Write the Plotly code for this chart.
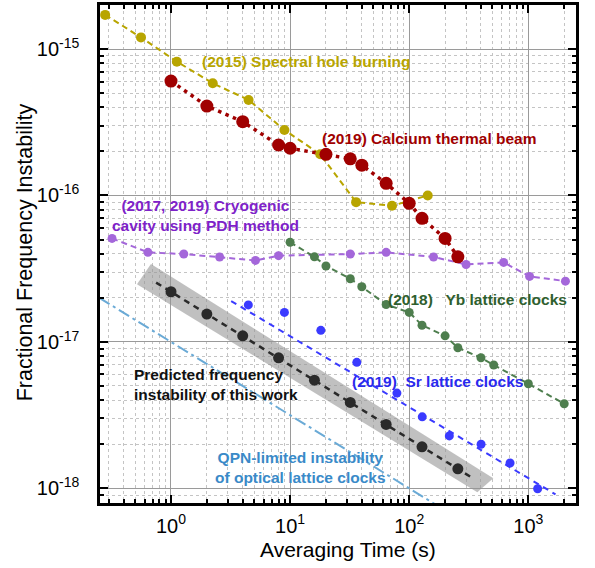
import plotly.graph_objects as go

# ---------------- data ----------------
shb_tau = [0.28, 0.56, 1.12, 2.24, 4.48, 8.96, 17.9, 35.8, 71.7, 143]
shb_sigma = [1.71e-15, 1.20e-15, 8.2e-16, 5.84e-16, 4.49e-16, 2.80e-16, 1.91e-16, 9.0e-17, 8.5e-17, 1.0e-16]

ca_tau = [1, 2, 4, 8, 10, 20, 32, 40, 64, 100, 128, 200, 256]
ca_sigma = [6.04e-16, 4.08e-16, 3.19e-16, 2.21e-16, 2.10e-16, 1.91e-16, 1.78e-16, 1.61e-16,
            1.21e-16, 8.83e-17, 6.98e-17, 5.09e-17, 3.81e-17]

cryo_tau = [0.32, 0.64, 1.28, 2.56, 5.12, 8, 32, 64, 160, 300, 620, 1024, 2048]
cryo_sigma = [5.09e-17, 4.09e-17, 3.98e-17, 3.80e-17, 3.6e-17, 3.88e-17, 3.98e-17, 4.09e-17,
              3.80e-17, 3.38e-17, 3.49e-17, 2.80e-17, 2.60e-17]

yb_tau = [10, 16, 20, 32, 40, 64, 100, 128, 200, 256, 400, 512, 1000, 2000]
yb_sigma = [4.79e-17, 3.81e-17, 3.30e-17, 2.70e-17, 2.38e-17, 1.80e-17, 1.59e-17, 1.30e-17,
            1.10e-17, 9.12e-18, 7.79e-18, 6.95e-18, 5.18e-18, 3.78e-18]

sr_tau = [4.46, 8.96, 18.1, 36.3, 78.8, 128.6, 217, 401, 702, 1197]
sr_sigma = [1.79e-17, 1.59e-17, 1.2e-17, 7.25e-18, 4.47e-18, 3.08e-18, 2.28e-18, 2.0e-18,
            1.49e-18, 9.94e-19]
sr_fit_tau = [3.2, 1690]
sr_fit_sigma = [1.9e-17, 9.1e-19]

qpn_tau = [0.25, 200]
qpn_sigma = [2.0e-17, 7.07e-19]

pred_tau = [1, 2, 4, 8, 16, 32, 64, 128, 256]
pred_sigma = [2.2e-17, 1.55e-17, 1.1e-17, 7.78e-18, 5.48e-18, 3.86e-18, 2.73e-18, 1.92e-18, 1.36e-18]
pred_line_tau = [0.75, 350]
pred_line_sigma = [2.54e-17, 1.16e-18]

band_tau = [0.679, 508, 373, 0.518, 0.679]
band_sigma = [3.40e-17, 1.17e-18, 9.4e-19, 2.48e-17, 3.40e-17]

x_major = [1, 10, 100, 1000]
x_major_text = ["10<sup>0</sup>", "10<sup>1</sup>", "10<sup>2</sup>", "10<sup>3</sup>"]
y_major = [1e-18, 1e-17, 1e-16, 1e-15]
y_major_text = ["10<sup>-18</sup>", "10<sup>-17</sup>", "10<sup>-16</sup>", "10<sup>-15</sup>"]
x_minor = [m * d for d in (0.1, 1, 10, 100, 1000) for m in range(2, 10)]
y_minor = [m * d for d in (1e-19, 1e-18, 1e-17, 1e-16, 1e-15) for m in range(2, 10)]

# ---------------- colours ----------------
OLIVE = "#B8A500"
RED = "#A00000"
PURPLE_M = "#A467DA"
PURPLE_T = "#7E22C8"
GREEN_M = "#4E7E4E"
GREEN_T = "#2F5F2F"
BLUE = "#3A3AFF"
BLUE_T = "#2A2AEE"
QPN = "#6AAAD6"
QPN_T = "#3A8AC8"

fig = go.Figure()

# gray band
fig.add_trace(go.Scatter(x=band_tau, y=band_sigma, mode="lines", fill="toself",
                         fillcolor="rgba(150,150,150,0.6)", line=dict(width=0),
                         hoverinfo="skip", showlegend=False))

# QPN line
fig.add_trace(go.Scatter(x=qpn_tau, y=qpn_sigma, mode="lines",
                         line=dict(color=QPN, width=2, dash="12px,4px,3px,4px"), showlegend=False))

# Sr fit line
fig.add_trace(go.Scatter(x=sr_fit_tau, y=sr_fit_sigma, mode="lines",
                         line=dict(color=BLUE, width=2, dash="6px,5px"), showlegend=False))

# Spectral hole burning
fig.add_trace(go.Scatter(x=shb_tau, y=shb_sigma, mode="lines+markers",
                         line=dict(color=OLIVE, width=2, dash="6px,4px"),
                         marker=dict(color=OLIVE, size=10), showlegend=False))

# Cryogenic cavity
fig.add_trace(go.Scatter(x=cryo_tau, y=cryo_sigma, mode="lines+markers",
                         line=dict(color=PURPLE_M, width=2, dash="6px,4px"),
                         marker=dict(color=PURPLE_M, size=9), showlegend=False))

# Yb lattice clocks
fig.add_trace(go.Scatter(x=yb_tau, y=yb_sigma, mode="lines+markers",
                         line=dict(color=GREEN_M, width=2, dash="6px,4px"),
                         marker=dict(color=GREEN_M, size=9), showlegend=False))

# Calcium thermal beam
fig.add_trace(go.Scatter(x=ca_tau, y=ca_sigma, mode="lines+markers",
                         line=dict(color=RED, width=3.5, dash="3.5px,4.5px"),
                         marker=dict(color=RED, size=13), showlegend=False))

# Sr points
fig.add_trace(go.Scatter(x=sr_tau, y=sr_sigma, mode="markers",
                         marker=dict(color=BLUE, size=9), showlegend=False))

# predicted
fig.add_trace(go.Scatter(x=pred_line_tau, y=pred_line_sigma, mode="lines",
                         line=dict(color="#2A2A2A", width=2.5, dash="6px,5px"), showlegend=False))
fig.add_trace(go.Scatter(x=pred_tau, y=pred_sigma, mode="markers",
                         marker=dict(color="#2A2A2A", size=11), showlegend=False))

FONT = "Liberation Sans, Arial, sans-serif"


def label(text, lx, ly, color, xanchor="center", align="center"):
    fig.add_annotation(x=lx, y=ly, xref="x", yref="y", text=text, showarrow=False,
                       xanchor=xanchor, align=align,
                       font=dict(family=FONT, size=15.5, color=color))


label("<b>(2015) Spectral hole burning</b>", 1.130, -15.087, OLIVE)
label("<b>(2019) Calcium thermal beam</b>", 2.167, -15.61, RED)
label("<b>(2017, 2019) Cryogenic<br>cavity using PDH method</b>", 0.29, -16.134, PURPLE_T)
label("<b>(2018)   Yb lattice clocks</b>", 2.576, -16.708, GREEN_T)
label("<b>(2019)  Sr lattice clocks</b>", 2.238, -17.268, BLUE_T)
label("<b>Predicted frequency<br>instability of this work</b>", -0.33, -17.292, "#111111",
      xanchor="left", align="left")
label("<b>QPN-limited instability<br>of optical lattice clocks</b>", 1.09, -17.855, QPN_T)

# axis titles placed as paper annotations
fig.add_annotation(x=0.522, y=-0.094, xref="paper", yref="paper", text="Averaging Time (s)",
                   showarrow=False, xanchor="center", yanchor="middle",
                   font=dict(family=FONT, size=21, color="black"))
fig.add_annotation(x=-0.158, y=0.503, xref="paper", yref="paper",
                   text="Fractional Frequency Instability", textangle=-90,
                   showarrow=False, xanchor="center", yanchor="middle",
                   font=dict(family=FONT, size=21.5, color="black"))

axis_common = dict(
    type="log", showline=True, linecolor="black", linewidth=2.5, mirror="allticks",
    ticks="inside", ticklen=8, tickwidth=2, tickcolor="black",
    showgrid=True, gridcolor="#9A9A9A", gridwidth=1,
    tickfont=dict(family=FONT, size=20, color="black"),
    zeroline=False,
)

fig.update_xaxes(
    **axis_common, range=[-0.596, 3.400], tickmode="array", tickvals=x_major, ticktext=x_major_text,
    minor=dict(tickmode="array", tickvals=x_minor, ticks="inside", ticklen=4, tickwidth=1.5,
               tickcolor="black", showgrid=True, gridcolor="#C4C4C4", griddash="dot", gridwidth=1),
    ticklabelstandoff=3,
)
fig.update_yaxes(
    **axis_common, range=[-18.100, -14.6995], tickmode="array", tickvals=y_major, ticktext=y_major_text,
    minor=dict(tickmode="array", tickvals=y_minor, ticks="inside", ticklen=4, tickwidth=1.5,
               tickcolor="black", showgrid=True, gridcolor="#C4C4C4", griddash="dot", gridwidth=1),
    ticklabelstandoff=14,
)

fig.update_layout(
    width=595, height=568,
    margin=dict(l=100, r=19, t=5, b=65, autoexpand=False),
    paper_bgcolor="white", plot_bgcolor="white",
    showlegend=False,
)

fig.write_html("out.html", config={"displayModeBar": False},
               post_script="document.body.style.margin='0';document.body.style.overflow='hidden';")
